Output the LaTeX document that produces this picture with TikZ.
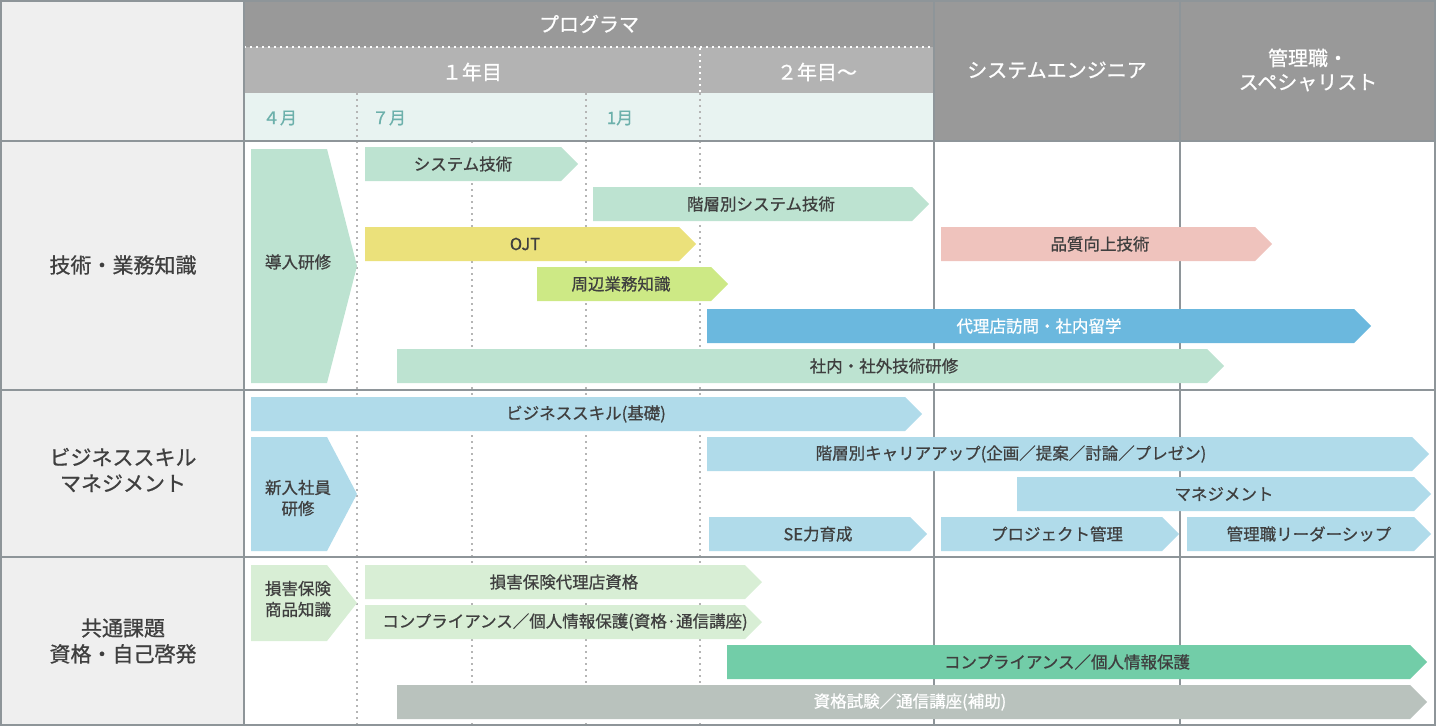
\documentclass[tikz,border=0pt]{standalone}
\usepackage{fontspec}
\setmainfont{Noto Sans CJK JP}[FakeBold=0.8]
\usetikzlibrary{calc}
\definecolor{hdrdark}{HTML}{999999}
\definecolor{hdrmid}{HTML}{B3B3B3}
\definecolor{monthbg}{HTML}{E8F3F1}
\definecolor{leftbg}{HTML}{EFEFEF}
\definecolor{linegray}{HTML}{8E9599}
\definecolor{gridgray}{HTML}{B5B5B5}
\definecolor{monthtxt}{HTML}{6CB0AB}
\definecolor{txtdark}{HTML}{3F3F3F}
\definecolor{mint}{HTML}{BDE3D1}
\definecolor{ojtyellow}{HTML}{EBE17B}
\definecolor{lime}{HTML}{CDE985}
\definecolor{sky}{HTML}{6BB8DE}
\definecolor{pink}{HTML}{EFC3BD}
\definecolor{pale}{HTML}{B0DBEA}
\definecolor{palegreen}{HTML}{D8EED5}
\definecolor{teal}{HTML}{72CDA8}
\definecolor{graygreen}{HTML}{B9C2BD}
\tikzset{
    hdrtext/.style = {text=white, font=\fontsize{20}{24}\selectfont, align=center, inner sep=0pt},
    monthtext/.style = {text=monthtxt, font=\fontsize{17}{20}\selectfont, inner sep=0pt},
    rowtext/.style = {text=txtdark, font=\fontsize{21}{26}\selectfont, align=center, inner sep=0pt},
    bartext/.style = {font=\fontsize{16.5}{21}\selectfont, align=center, inner sep=0pt},
    gridline/.style = {draw=gridgray, line width=1.5pt, dash pattern=on 2pt off 4pt},
    hdrdots/.style = {draw=white, line width=1.5pt, dash pattern=on 2pt off 4pt},
    frame/.style = {draw=linegray, line width=2pt}
}
% name, fill, text colour, x start, y top, x tip, text x, text
\newcommand{\progbar}[8]{%
    \fill[#2] (#4,#5) -- (#6-17,#5) -- (#6,#5+17) -- (#6-17,#5+34) -- (#4,#5+34) -- cycle;
    \node[bartext, text=#3] (#1) at (#7,#5+17) {#8};
}
% name, fill, y top, y bottom, text y, text
\newcommand{\introbar}[6]{%
    \fill[#2] (251,#3) -- (327,#3) -- (357,{(#3+#4)/2}) -- (327,#4) -- (251,#4) -- cycle;
    \node[bartext, text=txtdark] (#1) at (298,#5) {#6};
}

\begin{document}
\begin{tikzpicture}[x=1pt, y=-1pt]
    \useasboundingbox (0,0) rectangle (1436,726);
    \fill[leftbg] (0,0) rectangle (244,726);
    \fill[hdrdark] (244,0) rectangle (934,47);
    \fill[hdrmid] (244,47) rectangle (934,93);
    \fill[monthbg] (244,93) rectangle (934,141);
    \fill[hdrdark] (934,0) rectangle (1436,141);
    \draw[hdrdots] (244,47) -- (934,47);
    \draw[hdrdots] (700,48) -- (700,93);
    \foreach \x/\ytop in {357/93, 472/141, 586/93, 700/93}
        \draw[gridline] (\x,\ytop) -- (\x,725);
    \foreach \y in {141, 390, 557}
        \draw[frame] (0,\y) -- (1436,\y);
    \foreach \x in {244, 934, 1180}
        \draw[frame] (\x,0) -- (\x,726);
    \draw[frame] (1,1) rectangle (1435,725);

    \node[hdrtext] (program) at (589,24) {プログラマ};
    \node[hdrtext] (year1) at (472,72) {１年目};
    \node[hdrtext] (year2) at (817,72) {２年目～};
    \node[hdrtext] (se) at (1057,70) {システムエンジニア};
    \node[hdrtext] (kanri) at (1308,70) {管理職・\\スペシャリスト};
    \node[monthtext] (apr) at (280,118) {４月};
    \node[monthtext] (jul) at (389,118) {７月};
    \node[monthtext] (jan) at (620,118) {1月};

    \node[rowtext] (gijutsu) at (123,265) {技術・業務知識};
    \node[rowtext] (business) at (123,470) {ビジネススキル\\マネジメント};
    \node[rowtext] (kyotsu) at (123,641) {共通課題\\資格・自己啓発};

    \introbar{donyu}{mint}{149}{383}{262}{導入研修}
    \introbar{shinnyu}{pale}{437}{551}{498}{新入社員\\研修}
    \introbar{songai}{palegreen}{565}{641}{599}{損害保険\\商品知識}

    \progbar{sysgijutsu}{mint}{txtdark}{365}{147}{578}{463}{システム技術}
    \progbar{kaisosys}{mint}{txtdark}{593}{187}{929}{761}{階層別システム技術}
    \progbar{ojt}{ojtyellow}{txtdark}{365}{227}{696}{525}{OJT}
    \progbar{shuhen}{lime}{txtdark}{537}{267}{728}{621}{周辺業務知識}
    \progbar{hinshitsu}{pink}{txtdark}{941}{227}{1272}{1100}{品質向上技術}
    \progbar{dairiten}{sky}{white}{707}{309}{1371}{1039}{代理店訪問・社内留学}
    \progbar{shanai}{mint}{txtdark}{397}{349}{1224}{884}{社内・社外技術研修}

    \progbar{bizkiso}{pale}{txtdark}{251}{397}{922}{586}{ビジネススキル(基礎)}
    \progbar{career}{pale}{txtdark}{707}{437}{1429}{1011}{階層別キャリアアップ(企画／提案／討論／プレゼン)}
    \progbar{mgmt}{pale}{txtdark}{1017}{477}{1431}{1224}{マネジメント}
    \progbar{seryoku}{pale}{txtdark}{709}{517}{927}{818}{SE力育成}
    \progbar{project}{pale}{txtdark}{941}{517}{1179}{1057}{プロジェクト管理}
    \progbar{leader}{pale}{txtdark}{1187}{517}{1431}{1309}{管理職リーダーシップ}

    \progbar{dairishikaku}{palegreen}{txtdark}{365}{565}{762}{564}{損害保険代理店資格}
    \progbar{compli}{palegreen}{txtdark}{365}{605}{762}{565}{コンプライアンス／個人情報保護(資格·通信講座)}
    \progbar{kojin}{teal}{txtdark}{727}{645}{1427}{1067}{コンプライアンス／個人情報保護}
    \progbar{shiken}{graygreen}{white}{397}{685}{1427}{910}{資格試験／通信講座(補助)}
\end{tikzpicture}
\end{document}
